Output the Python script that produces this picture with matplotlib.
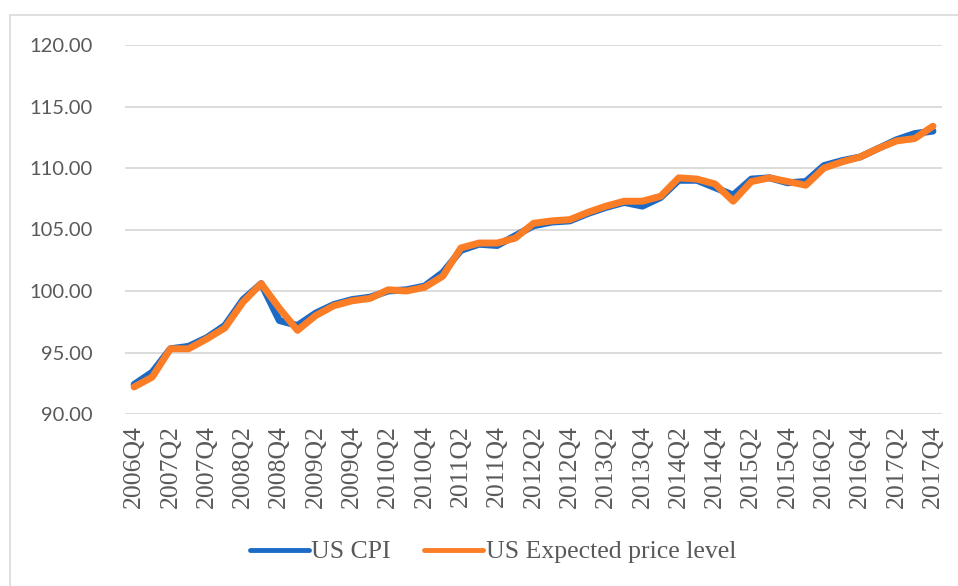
import matplotlib
matplotlib.use("Agg")
import matplotlib.pyplot as plt
from matplotlib.patches import Rectangle

# Quarter labels (2006Q4 .. 2017Q4)
quarters = ["2006Q4",
            "2007Q1", "2007Q2", "2007Q3", "2007Q4",
            "2008Q1", "2008Q2", "2008Q3", "2008Q4",
            "2009Q1", "2009Q2", "2009Q3", "2009Q4",
            "2010Q1", "2010Q2", "2010Q3", "2010Q4",
            "2011Q1", "2011Q2", "2011Q3", "2011Q4",
            "2012Q1", "2012Q2", "2012Q3", "2012Q4",
            "2013Q1", "2013Q2", "2013Q3", "2013Q4",
            "2014Q1", "2014Q2", "2014Q3", "2014Q4",
            "2015Q1", "2015Q2", "2015Q3", "2015Q4",
            "2016Q1", "2016Q2", "2016Q3", "2016Q4",
            "2017Q1", "2017Q2", "2017Q3", "2017Q4"]

us_cpi = [92.4, 93.4, 95.3, 95.5, 96.2, 97.2, 99.3, 100.6, 97.6, 97.2,
          98.2, 98.9, 99.3, 99.5, 100.0, 100.1, 100.4, 101.5, 103.3, 103.8,
          103.7, 104.5, 105.3, 105.6, 105.7, 106.3, 106.8, 107.2, 106.9, 107.6,
          109.0, 109.0, 108.4, 107.8, 109.1, 109.2, 108.8, 108.9, 110.2, 110.6,
          110.9, 111.6, 112.3, 112.8, 113.0]

us_expected = [92.2, 93.0, 95.3, 95.3, 96.1, 97.0, 99.1, 100.6, 98.6, 96.8,
               98.0, 98.8, 99.2, 99.4, 100.1, 100.0, 100.3, 101.2, 103.5, 103.9,
               103.9, 104.3, 105.5, 105.7, 105.8, 106.4, 106.9, 107.3, 107.3, 107.7,
               109.2, 109.1, 108.7, 107.3, 108.9, 109.2, 108.9, 108.6, 110.0, 110.5,
               110.9, 111.6, 112.2, 112.4, 113.4]

y_ticks = [90, 95, 100, 105, 110, 115, 120]

BLUE = "#1B6AC6"
ORANGE = "#FB7D26"
TEXT = "#595959"
GRID = "#D9D9D9"


def generate_figure() -> None:
    """
    Line chart of US CPI vs expected price level
    """
    fig = plt.figure(figsize=(9.58, 5.86), dpi=100)
    # Plot area (Excel style)
    ax = fig.add_axes([125 / 958, 1 - 414 / 586, (942 - 125) / 958, (414 - 45) / 586])
    x = list(range(len(quarters)))
    ax.plot(x, us_cpi, color=BLUE, lw=5, solid_capstyle="round",
            solid_joinstyle="round", label="US CPI", zorder=3)
    ax.plot(x, us_expected, color=ORANGE, lw=5, solid_capstyle="round",
            solid_joinstyle="round", label="US Expected price level", zorder=4)
    # Axes limits, half category padding at each end
    ax.set_xlim(-0.5, len(quarters) - 0.5)
    ax.set_ylim(90, 120)
    ax.set_yticks(y_ticks)
    ax.set_yticklabels([f"{v:.2f}" for v in y_ticks], family="Lato",
                       fontsize=14.5, color=TEXT)
    ax.set_xticks(x[::2])
    ax.set_xticklabels(quarters[::2], rotation=90, family="Liberation Serif",
                       fontsize=18.5, color=TEXT)
    ax.tick_params(axis="y", length=0, pad=23)
    ax.tick_params(axis="x", length=0, pad=8)
    ax.grid(axis="y", color=GRID, lw=1.3)
    ax.set_axisbelow(True)
    for spine in ax.spines.values():
        spine.set_visible(False)
    # Legend below plot
    leg = fig.legend(loc="center", bbox_to_anchor=(493 / 958, 1 - 552 / 586),
                     ncol=2, frameon=False, handlelength=2.3, handletextpad=0.1,
                     columnspacing=1.3,
                     prop={"family": "Liberation Serif", "size": 18.5})
    for line in leg.get_lines():
        line.set_linewidth(3.5)
    for txt in leg.get_texts():
        txt.set_color(TEXT)
    # Chart border (only top/left visible in the crop)
    fig.patches.append(Rectangle((10 / 958, -0.1), 1.2, 1 - 15 / 586 + 0.1,
                                 transform=fig.transFigure, fill=False,
                                 edgecolor="#D9D9D9", lw=1.2))
    fig.savefig("out.png", dpi=100)
    return


if __name__ == '__main__':
    generate_figure()
